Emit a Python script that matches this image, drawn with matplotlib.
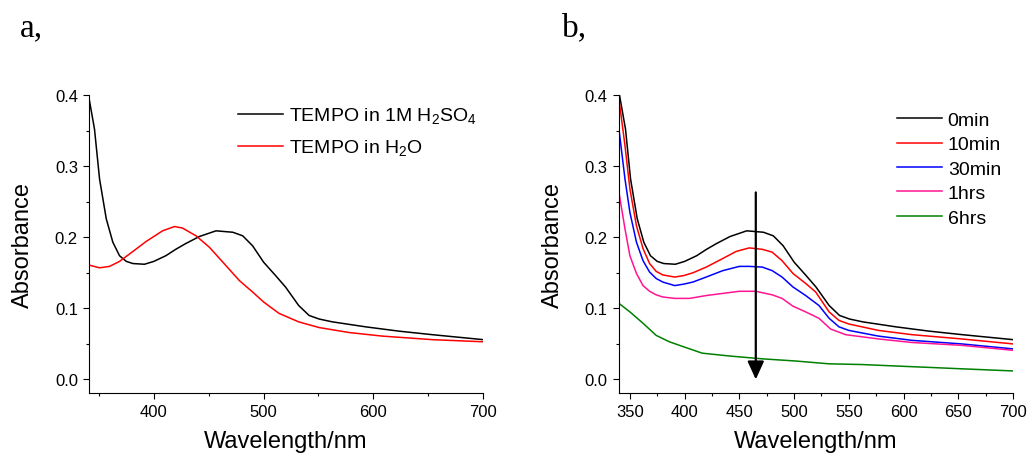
import matplotlib
matplotlib.use('Agg')
import matplotlib.pyplot as plt
from matplotlib.ticker import MultipleLocator

plt.rcParams['font.family'] = ['Liberation Sans', 'DejaVu Sans']
plt.rcParams['mathtext.default'] = 'regular'

# spectra (wavelength nm, absorbance)
wl_acid = [340.6, 346, 350.6, 356.7, 362.7, 368.8, 375, 381, 391.5, 400, 411, 420, 429, 441.5,
           456.7, 472, 481, 490, 500, 511, 520, 532, 541.5, 550.6, 562.7, 593, 623, 653.6, 700]
abs_acid = [0.399, 0.352, 0.282, 0.226, 0.193, 0.174, 0.166, 0.163, 0.162, 0.166, 0.174, 0.183,
            0.191, 0.201, 0.209, 0.207, 0.202, 0.188, 0.165, 0.146, 0.130, 0.104, 0.090, 0.085,
            0.081, 0.074, 0.068, 0.063, 0.056]

wl_water = [340.6, 350.6, 359.7, 368.8, 381, 393, 400, 408, 418.8, 426, 438.5, 450.6, 465.8, 478,
            490, 500, 514, 532, 550.6, 577.9, 608, 653.6, 700]
abs_water = [0.161, 0.157, 0.159, 0.166, 0.180, 0.194, 0.201, 0.209, 0.215, 0.213, 0.202, 0.186,
             0.160, 0.139, 0.123, 0.109, 0.093, 0.081, 0.073, 0.066, 0.061, 0.056, 0.053]

wl_10 = [340, 345.5, 350, 356, 362, 368, 374, 380, 391, 399, 407.6, 419.7, 434.8, 447, 459, 471,
         480, 489, 499, 510.6, 519.7, 532, 541, 550, 577, 607.6, 653, 700]
abs_10 = [0.394, 0.329, 0.268, 0.216, 0.184, 0.163, 0.152, 0.147, 0.144, 0.146, 0.150, 0.158,
          0.170, 0.180, 0.185, 0.183, 0.179, 0.167, 0.149, 0.135, 0.123, 0.095, 0.083, 0.078,
          0.069, 0.063, 0.057, 0.050]

wl_30 = [340, 345.5, 350, 356, 362, 368, 374, 380, 391, 399, 407.6, 419.7, 434.8, 450, 459, 471,
         480, 489, 499, 510.6, 522.7, 532, 541, 550, 577, 607.6, 653, 700]
abs_30 = [0.352, 0.282, 0.235, 0.193, 0.167, 0.151, 0.142, 0.137, 0.132, 0.134, 0.137, 0.144,
          0.153, 0.159, 0.159, 0.158, 0.153, 0.144, 0.130, 0.118, 0.104, 0.086, 0.074, 0.069,
          0.061, 0.055, 0.050, 0.043]

wl_1h = [340, 345.5, 350, 356, 362, 368, 374, 380, 391, 404.5, 419.7, 434.8, 450, 465, 480, 489,
         499, 510.6, 522.7, 533.3, 547, 577, 607.6, 653, 700]
abs_1h = [0.263, 0.212, 0.174, 0.149, 0.132, 0.124, 0.119, 0.116, 0.114, 0.114, 0.118, 0.121,
          0.124, 0.124, 0.119, 0.114, 0.103, 0.095, 0.086, 0.071, 0.063, 0.057, 0.052, 0.048,
          0.041]

wl_6h = [340, 350, 362, 374, 386, 399, 416, 441, 471, 501, 532, 562, 592, 623, 653, 700]
abs_6h = [0.107, 0.095, 0.079, 0.062, 0.053, 0.046, 0.037, 0.033, 0.029, 0.026, 0.022, 0.021,
          0.019, 0.017, 0.015, 0.012]

series_b = [
    (wl_acid, abs_acid, '0min', 'black'),
    (wl_10, abs_10, '10min', 'red'),
    (wl_30, abs_30, '30min', 'blue'),
    (wl_1h, abs_1h, '1hrs', '#ff1493'),
    (wl_6h, abs_6h, '6hrs', 'green'),
]

arrow_x = 465
arrow_from = 0.263
arrow_to = 0.0

fig = plt.figure(figsize=(10.29, 4.56), dpi=100)
ax_a = fig.add_axes([0.0865, 0.136, 0.383, 0.6535])
ax_b = fig.add_axes([0.6015, 0.136, 0.383, 0.6535])


def style_axes(ax, xlim, xmajor):
    ax.set_xlim(*xlim)
    ax.set_ylim(-0.019, 0.4)
    ax.xaxis.set_major_locator(MultipleLocator(xmajor))
    ax.xaxis.set_minor_locator(MultipleLocator(xmajor / 2))
    ax.yaxis.set_major_locator(MultipleLocator(0.1))
    ax.yaxis.set_minor_locator(MultipleLocator(0.05))
    ax.yaxis.set_major_formatter(plt.FuncFormatter(lambda v, p: f'{v:.1f}'))
    for s in ('top', 'right'):
        ax.spines[s].set_visible(False)
    ax.tick_params(which='major', direction='out', length=4.5, width=0.8, labelsize=12)
    ax.tick_params(which='minor', direction='out', length=2.5, width=0.8)
    ax.set_xlabel('Wavelength/nm', fontsize=17, labelpad=8)
    ax.set_ylabel('Absorbance', fontsize=17, labelpad=15)


ax_a.plot(wl_acid, abs_acid, color='black', lw=1.1, label=r'TEMPO in 1M H$_2$SO$_4$')
ax_a.plot(wl_water, abs_water, color='red', lw=1.1, label=r'TEMPO in H$_2$O')
style_axes(ax_a, (341, 700), 100)
ax_a.legend(loc='upper left', bbox_to_anchor=(0.378, 0.965), frameon=False, fontsize=14,
            handlelength=2.3, handletextpad=0.3, borderpad=0, borderaxespad=0, labelspacing=0.62)

for wl, ab, lab, col in series_b:
    ax_b.plot(wl, ab, color=col, lw=1.1, label=lab)
style_axes(ax_b, (340, 700), 50)
ax_b.legend(loc='upper left', bbox_to_anchor=(0.706, 0.945), frameon=False, fontsize=14,
            handlelength=2.3, handletextpad=0.3, borderpad=0, borderaxespad=0, labelspacing=0.35)
ax_b.annotate('', xy=(arrow_x, arrow_to), xytext=(arrow_x, arrow_from),
              arrowprops=dict(arrowstyle='-|>,head_length=1.1,head_width=0.5', color='black',
                              lw=1.6, shrinkA=0, shrinkB=0))

fig.text(0.019, 1 - 36 / 456, 'a,', fontsize=24, family='Liberation Serif', va='baseline')
fig.text(0.546, 1 - 36 / 456, 'b,', fontsize=24, family='Liberation Serif', va='baseline')

fig.savefig('out.png', dpi=100)
